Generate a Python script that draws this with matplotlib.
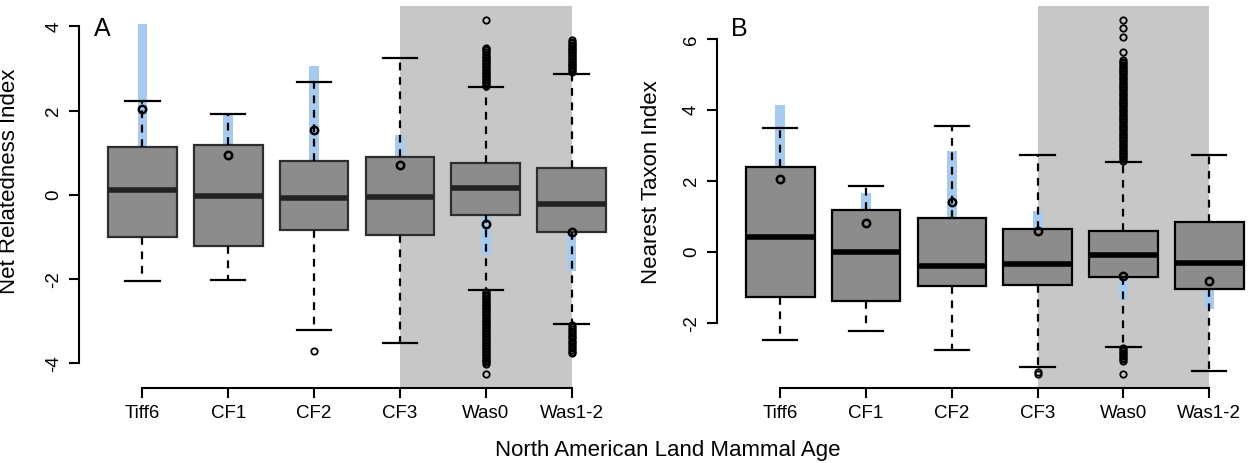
import numpy as np
import matplotlib
matplotlib.use("Agg")
import matplotlib.pyplot as plt

plt.rcParams['font.family'] = ['Liberation Sans', 'DejaVu Sans']

ages = ['Tiff6', 'CF1', 'CF2', 'CF3', 'Was0', 'Was1-2']

# Net Relatedness Index - null distribution summaries per age
nri_q1 = [-1.01, -1.22, -0.84, -0.96, -0.47, -0.87]
nri_med = [0.12, -0.02, -0.08, -0.05, 0.17, -0.21]
nri_q3 = [1.13, 1.18, 0.81, 0.91, 0.76, 0.64]
nri_whislo = [-2.05, -2.01, -3.20, -3.52, -2.27, -3.07]
nri_whishi = [2.23, 1.93, 2.67, 3.25, 2.56, 2.88]
nri_fliers = [
    [],
    [],
    [-3.70],
    [],
    [2.58, 2.61, 2.65, 2.68, 2.72, 2.75, 2.79, 2.82, 2.86, 2.89, 2.93, 2.96,
     3.00, 3.03, 3.07, 3.10, 3.14, 3.17, 3.21, 3.24, 3.28, 3.31, 3.35, 3.39,
     3.43, 3.47, 3.50, 4.15,
     -2.30, -2.33, -2.37, -2.40, -2.44, -2.47, -2.51, -2.54, -2.58, -2.61,
     -2.65, -2.68, -2.72, -2.75, -2.79, -2.82, -2.86, -2.89, -2.93, -2.96,
     -3.00, -3.03, -3.07, -3.10, -3.14, -3.17, -3.21, -3.24, -3.28, -3.31,
     -3.35, -3.38, -3.42, -3.45, -3.49, -3.52, -3.56, -3.59, -3.63, -3.66,
     -3.70, -3.73, -3.77, -3.80, -3.84, -3.87, -3.91, -3.94, -3.98, -4.02,
     -4.25],
    [2.91, 2.94, 2.98, 3.01, 3.05, 3.08, 3.12, 3.15, 3.19, 3.22, 3.26, 3.29,
     3.33, 3.36, 3.40, 3.43, 3.47, 3.50, 3.54, 3.57, 3.61, 3.64, 3.68,
     -3.10, -3.14, -3.19, -3.23, -3.28, -3.32, -3.37, -3.41, -3.46, -3.50,
     -3.55, -3.59, -3.64, -3.68, -3.72, -3.76],
]
# observed NRI and its range
nri_obs = [2.03, 0.94, 1.53, 0.71, -0.70, -0.87]
nri_obs_lo = [0.60, 0.50, 0.30, 0.20, -1.42, -1.80]
nri_obs_hi = [4.07, 1.91, 3.06, 1.43, 0.00, -0.30]

# Nearest Taxon Index - null distribution summaries per age
nti_q1 = [-1.25, -1.37, -0.96, -0.93, -0.71, -1.04]
nti_med = [0.42, 0.00, -0.40, -0.33, -0.09, -0.30]
nti_q3 = [2.41, 1.20, 0.97, 0.65, 0.59, 0.84]
nti_whislo = [-2.47, -2.23, -2.77, -3.23, -2.66, -3.34]
nti_whishi = [3.50, 1.86, 3.55, 2.74, 2.54, 2.74]
nti_fliers = [
    [],
    [],
    [],
    [-3.38, -3.43],
    [2.58, 2.62, 2.67, 2.71, 2.76, 2.80, 2.85, 2.89, 2.94, 2.98, 3.03, 3.07,
     3.12, 3.16, 3.21, 3.25, 3.30, 3.34, 3.39, 3.43, 3.48, 3.52, 3.57, 3.61,
     3.66, 3.70, 3.75, 3.79, 3.84, 3.88, 3.93, 3.97, 4.02, 4.06, 4.11, 4.15,
     4.20, 4.24, 4.29, 4.33, 4.38, 4.42, 4.47, 4.51, 4.56, 4.60, 4.65, 4.69,
     4.74, 4.78, 4.83, 4.87, 4.92, 4.96, 5.01, 5.05, 5.10, 5.14, 5.19, 5.23,
     5.28, 5.32, 5.37, 5.43, 5.64, 6.07, 6.31, 6.54,
     -2.70, -2.74, -2.78, -2.83, -2.87, -2.92, -2.97, -3.02, -3.07, -3.43],
    [],
]
# observed NTI and its range
nti_obs = [2.07, 0.83, 1.42, 0.61, -0.67, -0.81]
nti_obs_lo = [0.50, 0.30, 0.00, 0.10, -1.35, -1.60]
nti_obs_hi = [4.14, 1.67, 2.85, 1.16, -0.20, -0.40]


def draw_panel(ax, q1, med, q3, wlo, whi, fliers, obs, obs_lo, obs_hi,
               ylabel, letter, yticks, label_x, edge, median_col):
    pos = np.arange(1, len(ages) + 1)

    # shaded ages
    ax.axvspan(4, 6, color='#c7c7c7', lw=0, zorder=0)

    # observed range bars
    ax.bar(pos, np.array(obs_hi) - np.array(obs_lo), bottom=obs_lo,
           width=0.115, color='#a6cbee', lw=0, zorder=1)

    stats = []
    for i in range(len(ages)):
        stats.append(dict(label=ages[i], med=med[i], q1=q1[i], q3=q3[i],
                          whislo=wlo[i], whishi=whi[i], fliers=fliers[i]))
    ax.bxp(stats, positions=pos, widths=0.8, patch_artist=True, zorder=3,
           boxprops=dict(facecolor='#8c8c8c', edgecolor=edge, lw=1.6),
           medianprops=dict(color=median_col, lw=4, solid_capstyle='butt'),
           whiskerprops=dict(color='black', lw=1.6, linestyle=(0, (3.5, 3))),
           capprops=dict(color='black', lw=1.6),
           flierprops=dict(marker='o', mfc='none', mec='black', ms=4.6, mew=1.3))

    ax.plot(pos, obs, 'o', mfc='none', mec='black', ms=5.3, mew=1.8, zorder=5)

    # R-style axis limits
    vals = np.concatenate([wlo, whi] + [np.asarray(f, dtype=float) for f in fliers])
    span = vals.max() - vals.min()
    ax.set_ylim(vals.min() - 0.04 * span, vals.max() + 0.04 * span)
    ax.set_xlim(0.26, 6.74)

    ax.set_yticks(yticks)
    ax.set_yticklabels([str(t) for t in yticks])
    ax.set_xticks(pos)
    ax.set_xticklabels(ages)
    for lab in ax.get_yticklabels():
        lab.set_rotation(90)
        lab.set_va('center')

    for s in ['top', 'right']:
        ax.spines[s].set_visible(False)
    ax.spines['left'].set_bounds(yticks[0], yticks[-1])
    ax.spines['bottom'].set_bounds(1, 6)
    for s in ['left', 'bottom']:
        ax.spines[s].set_linewidth(1.5)
    ax.tick_params(width=1.5, length=7, labelsize=13.5, direction='out', pad=5)

    ax.set_ylabel(ylabel, fontsize=16)
    ax.yaxis.set_label_coords(label_x, 0.54)
    ax.text(0.041, 0.94, letter, transform=ax.transAxes, fontsize=18,
            ha='center', va='center')


fig = plt.figure(figsize=(12.5, 4.63), dpi=100)
ax1 = fig.add_axes([0.0632, 0.162, 0.4448, 0.825])
ax2 = fig.add_axes([0.5734, 0.162, 0.4448, 0.825])

draw_panel(ax1, nri_q1, nri_med, nri_q3, nri_whislo, nri_whishi, nri_fliers,
           nri_obs, nri_obs_lo, nri_obs_hi, 'Net Relatedness Index', 'A',
           [-4, -2, 0, 2, 4], -0.106, '#2e2e2e', '#222222')
draw_panel(ax2, nti_q1, nti_med, nti_q3, nti_whislo, nti_whishi, nti_fliers,
           nti_obs, nti_obs_lo, nti_obs_hi, 'Nearest Taxon Index', 'B',
           [-2, 0, 2, 4, 6], -0.099, 'black', 'black')

fig.text(0.534, 0.028, 'North American Land Mammal Age', ha='center',
         va='center', fontsize=16)

fig.savefig('out.png', dpi=100)
